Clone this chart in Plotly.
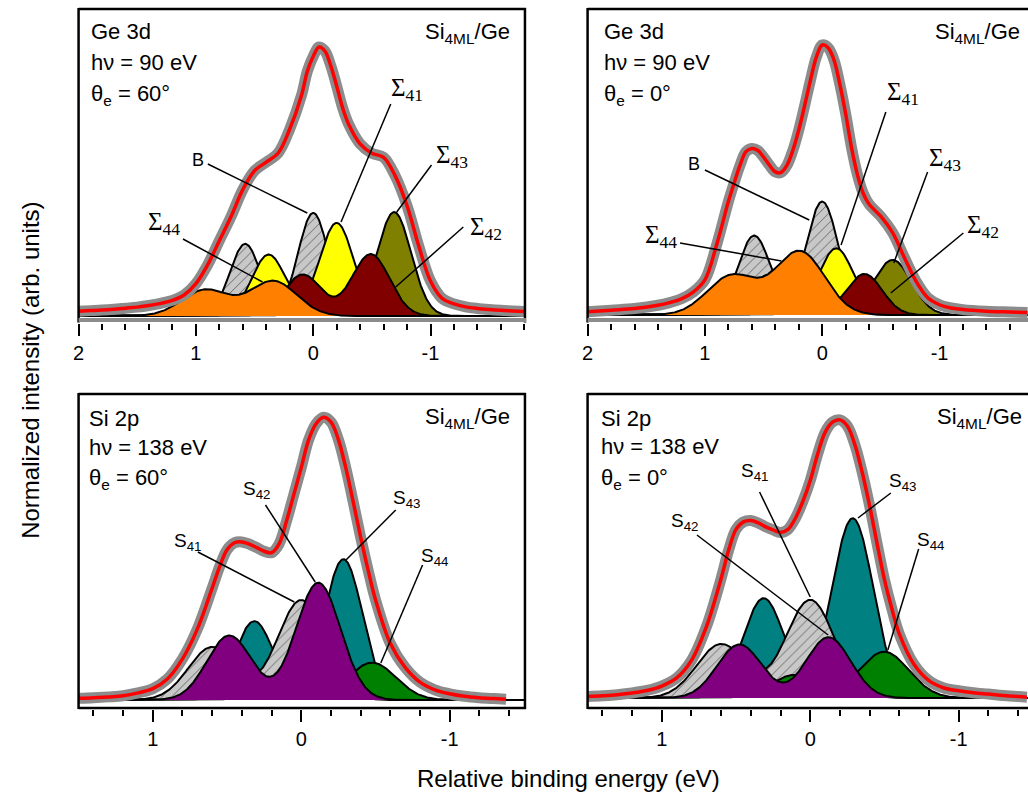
import numpy as np
import plotly.graph_objects as go

W, H = 1028, 801
SANS = "Liberation Sans, Arial, sans-serif"
SERIF = "Liberation Serif, Times New Roman, serif"

# ---------------- measured envelopes (fit / data), relative BE in eV ----------------
tl_fit_e = [2.0, 1.9, 1.8, 1.7, 1.6, 1.5, 1.4, 1.3, 1.2, 1.1, 1.0, 0.9, 0.8, 0.7, 0.6, 0.5, 0.4, 0.3,
            0.2, 0.1, 0.05, 0.0, -0.05, -0.1, -0.15, -0.2, -0.25, -0.3, -0.4, -0.5, -0.6, -0.7, -0.8,
            -0.9, -1.0, -1.1, -1.2, -1.3, -1.4, -1.5, -1.6, -1.7, -1.8]
tl_fit_v = [0.018, 0.020, 0.022, 0.025, 0.029, 0.033, 0.039, 0.047, 0.058, 0.078, 0.12, 0.19, 0.28,
            0.37, 0.47, 0.54, 0.572, 0.605, 0.695, 0.82, 0.91, 0.965, 1.0, 0.985, 0.93, 0.855, 0.775,
            0.715, 0.64, 0.605, 0.59, 0.52, 0.41, 0.26, 0.13, 0.065, 0.045, 0.034, 0.028, 0.024,
            0.021, 0.019, 0.017]

tr_fit_e = [2.0, 1.8, 1.6, 1.4, 1.3, 1.2, 1.1, 1.0, 0.9, 0.8, 0.75, 0.7, 0.65, 0.6, 0.55, 0.5, 0.45,
            0.4, 0.35, 0.3, 0.25, 0.2, 0.15, 0.1, 0.05, 0.0, -0.05, -0.1, -0.15, -0.2, -0.25, -0.3,
            -0.35, -0.4, -0.5, -0.6, -0.7, -0.8, -0.9, -1.0, -1.1, -1.2, -1.4, -1.6, -1.75]
tr_fit_v = [0.012, 0.018, 0.024, 0.036, 0.046, 0.06, 0.085, 0.13, 0.26, 0.42, 0.49, 0.555, 0.605,
            0.617, 0.61, 0.585, 0.555, 0.53, 0.528, 0.555, 0.61, 0.685, 0.775, 0.87, 0.955, 1.0,
            0.99, 0.945, 0.855, 0.745, 0.62, 0.52, 0.45, 0.41, 0.365, 0.305, 0.213, 0.125, 0.064,
            0.038, 0.026, 0.02, 0.014, 0.011, 0.009]

bl_fit_e = [1.5, 1.4, 1.3, 1.2, 1.1, 1.0, 0.9, 0.8, 0.7, 0.6, 0.55, 0.5, 0.45, 0.4, 0.35, 0.3, 0.25,
            0.2, 0.15, 0.1, 0.05, 0.0, -0.05, -0.1, -0.15, -0.2, -0.25, -0.3, -0.35, -0.4, -0.45,
            -0.5, -0.6, -0.7, -0.8, -0.9, -1.0, -1.1, -1.2, -1.3, -1.38]
bl_fit_v = [0.006, 0.008, 0.011, 0.015, 0.025, 0.04, 0.075, 0.145, 0.25, 0.395, 0.47, 0.53, 0.555,
            0.558, 0.55, 0.538, 0.525, 0.52, 0.55, 0.63, 0.725, 0.82, 0.918, 0.975, 0.998, 0.982,
            0.92, 0.82, 0.70, 0.576, 0.46, 0.355, 0.2, 0.115, 0.063, 0.036, 0.022, 0.013, 0.008,
            0.005, 0.003]

br_fit_e = [1.5, 1.4, 1.3, 1.2, 1.1, 1.0, 0.9, 0.8, 0.7, 0.6, 0.55, 0.5, 0.45, 0.4, 0.35, 0.3, 0.25,
            0.2, 0.15, 0.1, 0.05, 0.0, -0.05, -0.1, -0.15, -0.2, -0.25, -0.3, -0.35, -0.4, -0.45,
            -0.5, -0.55, -0.6, -0.7, -0.8, -0.9, -1.0, -1.1, -1.2, -1.3, -1.4, -1.46]
br_fit_v = [0.005, 0.008, 0.012, 0.018, 0.027, 0.043, 0.072, 0.135, 0.255, 0.43, 0.53, 0.605, 0.632,
            0.637, 0.628, 0.614, 0.603, 0.594, 0.605, 0.645, 0.705, 0.78, 0.875, 0.953, 0.99, 0.998,
            0.976, 0.91, 0.81, 0.69, 0.555, 0.425, 0.32, 0.23, 0.12, 0.062, 0.036, 0.026, 0.019,
            0.014, 0.009, 0.005, 0.003]

# ---------------- fitted doublet components (back -> front) ----------------
GE_SPLIT = 0.58   # Ge 3d spin-orbit splitting (eV)
SI_SPLIT = 0.60   # Si 2p spin-orbit splitting (eV)

tl_names = ["Σ43", "B", "Σ41", "Σ42", "Σ44"]
tl_colors = ["#808000", "hatch", "#ffff00", "#800000", "#ff8000"]
tl_center = [-0.69, 0.0, -0.20, -0.49, 0.34]
tl_height = [0.386, 0.383, 0.346, 0.23, 0.13]
tl_ratio = [0.67, 0.70, 0.66, 0.67, 0.75]
tl_sigma = [0.145, 0.13, 0.145, 0.16, 0.20]

tr_names = ["Σ43", "B", "Σ41", "Σ42", "Σ44"]
tr_colors = ["#808000", "hatch", "#ffff00", "#800000", "#ff8000"]
tr_center = [-0.60, 0.0, -0.12, -0.36, 0.19]
tr_height = [0.204, 0.42, 0.247, 0.152, 0.235]
tr_ratio = [0.67, 0.70, 0.60, 0.67, 0.62]
tr_sigma = [0.16, 0.14, 0.15, 0.15, 0.21]

bl_names = ["S43", "S41", "S44", "S42"]
bl_colors = ["#008080", "hatch", "#008000", "#800080"]
bl_center = [-0.284, 0.0, -0.478, -0.115]
bl_height = [0.497, 0.353, 0.132, 0.414]
bl_ratio = [0.56, 0.53, 0.50, 0.55]
bl_sigma = [0.13, 0.16, 0.16, 0.15]

br_names = ["S43", "S41", "S44", "S42"]
br_colors = ["#008080", "hatch", "#008000", "#800080"]
br_center = [-0.286, 0.0, -0.498, -0.123]
br_height = [0.645, 0.352, 0.166, 0.218]
br_ratio = [0.555, 0.55, 0.50, 0.88]
br_sigma = [0.14, 0.165, 0.165, 0.15]

# ---------------- text ----------------
top_tickvals = [2, 1, 0, -1]
top_ticktext = ["2", "1", "0", "-1"]
bot_tickvals = [1, 0, -1]
bot_ticktext = ["1", "0", "-1"]

tl_info = ["Ge 3d", "hν = 90 eV", "θ<sub>e</sub> = 60°"]
tr_info = ["Ge 3d", "hν = 90 eV", "θ<sub>e</sub> = 0°"]
bl_info = ["Si 2p", "hν = 138 eV", "θ<sub>e</sub> = 60°"]
br_info = ["Si 2p", "hν = 138 eV", "θ<sub>e</sub> = 0°"]
sample = "Si<sub>4ML</sub>/Ge"

tl_labels = ["B", "Σ<sub>41</sub>", "Σ<sub>43</sub>", "Σ<sub>42</sub>", "Σ<sub>44</sub>"]
tr_labels = ["B", "Σ<sub>41</sub>", "Σ<sub>43</sub>", "Σ<sub>42</sub>", "Σ<sub>44</sub>"]
bl_labels = ["S<sub>42</sub>", "S<sub>41</sub>", "S<sub>43</sub>", "S<sub>44</sub>"]
br_labels = ["S<sub>41</sub>", "S<sub>42</sub>", "S<sub>43</sub>", "S<sub>44</sub>"]

# ---------------- layout geometry (pixels) ----------------
tl_label_pos = [(185, 160), (385, 89), (431, 156), (465, 228), (141, 223)]
tl_leaders = [((203, 164), (303, 213)), ((387, 104), (337, 222)), ((428, 165), (393, 212)),
              ((460, 227), (392, 287)), ((178, 239), (258, 282))]
tr_label_pos = [(684, 164), (884, 93), (926, 159), (965, 226), (641, 236)]
tr_leaders = [((703, 170), (808, 220)), ((885, 112), (840, 245)), ((927, 172), (893, 263)),
              ((963, 233), (890, 293)), ((678, 243), (780, 261))]
bl_label_pos = [(236, 490), (167, 542), (387, 499), (415, 557)]
bl_leaders = [((261, 505), (311, 582)), ((193, 552), (290, 602)), ((392, 510), (342, 560)),
              ((419, 565), (377, 663))]
br_label_pos = [(737, 472), (667, 522), (886, 482), (914, 541)]
br_leaders = [((758, 492), (809, 597)), ((695, 535), (827, 635)), ((890, 493), (857, 518)),
              ((918, 549), (887, 650))]

panels = [
    dict(ax="", fe=tl_fit_e, fv=tl_fit_v, names=tl_names, colors=tl_colors, c=tl_center,
         h=tl_height, r=tl_ratio, s=tl_sigma, split=GE_SPLIT, left=73, right=522, top=9,
         bottom=322.5, e_left=2.0, ppe=118.0, base=316, unit=269, tv=top_tickvals,
         tt=top_ticktext, info=tl_info, info_x=83, info_y=[32, 63, 95], samp_x=509, samp_y=33,
         labels=tl_labels, lpos=tl_label_pos, leaders=tl_leaders, bcol="#8c8c8c", rframe=True),
    dict(ax="2", fe=tr_fit_e, fv=tr_fit_v, names=tr_names, colors=tr_colors, c=tr_center,
         h=tr_height, r=tr_ratio, s=tr_sigma, split=GE_SPLIT, left=585, right=1028, top=9,
         bottom=322.5, e_left=2.0, ppe=118.0, base=315, unit=270, tv=top_tickvals,
         tt=top_ticktext, info=tr_info, info_x=599, info_y=[32, 63, 95], samp_x=1022, samp_y=33,
         labels=tr_labels, lpos=tr_label_pos, leaders=tr_leaders, bcol="#8c8c8c", rframe=False),
    dict(ax="3", fe=bl_fit_e, fv=bl_fit_v, names=bl_names, colors=bl_colors, c=bl_center,
         h=bl_height, r=bl_ratio, s=bl_sigma, split=SI_SPLIT, left=73, right=522, top=394,
         bottom=709, e_left=1.5, ppe=149.3, base=700, unit=283.3, tv=bot_tickvals,
         tt=bot_ticktext, info=bl_info, info_x=81, info_y=[418, 447, 479], samp_x=509, samp_y=418,
         labels=bl_labels, lpos=bl_label_pos, leaders=bl_leaders, bcol="black", rframe=True),
    dict(ax="4", fe=br_fit_e, fv=br_fit_v, names=br_names, colors=br_colors, c=br_center,
         h=br_height, r=br_ratio, s=br_sigma, split=SI_SPLIT, left=585, right=1028, top=394,
         bottom=709, e_left=1.5, ppe=149.3, base=698, unit=278.7, tv=bot_tickvals,
         tt=bot_ticktext, info=br_info, info_x=596, info_y=[418, 446, 479], samp_x=1024, samp_y=418,
         labels=br_labels, lpos=br_label_pos, leaders=br_leaders, bcol="black", rframe=False),
]


def PX(x):
    return x / W


def PY(y):
    return 1 - y / H


def doublet(e, e0, a, ratio, split, sig):
    return (a * np.exp(-(e - e0) ** 2 / (2 * sig ** 2))
            + a * ratio * np.exp(-(e - e0 - split) ** 2 / (2 * sig ** 2)))


fig = go.Figure()
shapes = []
annotations = []

for p in panels:
    ax = p["ax"]
    e_right = p["e_left"] - (p["right"] - p["left"]) / p["ppe"]
    y_lo = (p["base"] - p["bottom"]) / p["unit"]
    y_hi = (p["base"] - p["top"]) / p["unit"]
    xa, ya = "x" + ax, "y" + ax

    grid = np.linspace(p["e_left"], e_right, 700)
    for name, col, c, h, r, s in zip(p["names"], p["colors"], p["c"], p["h"], p["r"], p["s"]):
        yv = doublet(grid, c, h, r, p["split"], s)
        kw = dict(x=grid, y=yv, mode="lines", fill="tozeroy", name=name, showlegend=False,
                  line=dict(color="black", width=2), xaxis=xa, yaxis=ya, hoverinfo="skip")
        if col == "hatch":
            kw["fillpattern"] = dict(shape="/", bgcolor="#c8c8c8", fgcolor="#5a5a5a",
                                     size=7, solidity=0.12, fillmode="replace")
        else:
            kw["fillcolor"] = col
        fig.add_trace(go.Scatter(**kw))

    # measured data (gray symbols) and fit (red)
    fig.add_trace(go.Scatter(x=p["fe"], y=p["fv"], mode="lines", showlegend=False,
                             line=dict(color="#8c8c8c", width=11, shape="spline"),
                             xaxis=xa, yaxis=ya, hoverinfo="skip"))
    fig.add_trace(go.Scatter(x=p["fe"], y=p["fv"], mode="lines", showlegend=False,
                             line=dict(color="#ff0000", width=3.5, shape="spline"),
                             xaxis=xa, yaxis=ya, hoverinfo="skip"))

    fig.update_layout({
        "xaxis" + ax: dict(domain=[PX(p["left"]), min(PX(p["right"]), 1.0)],
                           range=[p["e_left"], e_right], anchor=ya, tickmode="array",
                           tickvals=p["tv"], ticktext=p["tt"], ticks="outside", ticklen=12,
                           tickwidth=2, tickcolor="black", showline=False, showgrid=False,
                           zeroline=False, tickfont=dict(family=SANS, size=20, color="black"),
                           minor=dict(tickmode="linear", tick0=0, dtick=0.2, ticks="outside",
                                      ticklen=6, tickwidth=2, tickcolor="black", showgrid=False)),
        "yaxis" + ax: dict(domain=[PY(p["bottom"]), PY(p["top"])], range=[y_lo, y_hi],
                           anchor=xa, showticklabels=False, ticks="", showgrid=False,
                           zeroline=False, showline=False),
    })

    # frame
    L, R, T, B = p["left"], p["right"], p["top"], p["bottom"]
    fr = dict(type="line", xref="paper", yref="paper", layer="above")
    shapes.append(dict(fr, x0=PX(L), x1=PX(L), y0=PY(T - 1), y1=PY(B), line=dict(color="black", width=2.5)))
    shapes.append(dict(fr, x0=PX(L), x1=PX(R + 1), y0=PY(T), y1=PY(T), line=dict(color="black", width=2.5)))
    if p["rframe"]:
        shapes.append(dict(fr, x0=PX(R), x1=PX(R), y0=PY(T - 1), y1=PY(B), line=dict(color="black", width=2.5)))
    if p["bcol"] == "black":
        shapes.append(dict(fr, x0=PX(L), x1=PX(R + 1), y0=PY(B - 1), y1=PY(B - 1), line=dict(color="black", width=2.5)))
    else:
        shapes.append(dict(fr, x0=PX(L), x1=PX(R + 1), y0=PY(B - 2.5), y1=PY(B - 2.5), line=dict(color=p["bcol"], width=4)))

    # leader lines
    for (a0, a1) in p["leaders"]:
        shapes.append(dict(fr, x0=PX(a0[0]), y0=PY(a0[1]), x1=PX(a1[0]), y1=PY(a1[1]),
                           line=dict(color="black", width=1.5)))

    # panel info text
    for txt, yy in zip(p["info"], p["info_y"]):
        annotations.append(dict(text=txt, x=PX(p["info_x"]), y=PY(yy), xref="paper", yref="paper",
                                xanchor="left", yanchor="middle", showarrow=False,
                                font=dict(family=SANS, size=22, color="black")))
    annotations.append(dict(text=sample, x=PX(p["samp_x"]), y=PY(p["samp_y"]), xref="paper",
                            yref="paper", xanchor="right", yanchor="middle", showarrow=False,
                            font=dict(family=SANS, size=22, color="black")))

    # component labels
    for txt, (lx, ly) in zip(p["labels"], p["lpos"]):
        if txt.startswith("Σ"):
            f = dict(family=SERIF, size=25, color="black")
        elif txt == "B":
            f = dict(family=SANS, size=18, color="black")
        else:
            f = dict(family=SANS, size=19, color="black")
        annotations.append(dict(text=txt, x=PX(lx), y=PY(ly), xref="paper", yref="paper",
                                xanchor="left", yanchor="middle", showarrow=False, font=f))

# axis titles
annotations.append(dict(text="Normalized intensity (arb. units)", x=PX(24), y=PY(370),
                        xref="paper", yref="paper", textangle=-90, showarrow=False,
                        xanchor="center", yanchor="middle",
                        font=dict(family=SANS, size=24, color="black")))
annotations.append(dict(text="Relative binding energy (eV)", x=PX(566), y=PY(778),
                        xref="paper", yref="paper", showarrow=False,
                        xanchor="center", yanchor="middle",
                        font=dict(family=SANS, size=24, color="black")))

fig.update_layout(width=W, height=H, margin=dict(l=0, r=0, t=0, b=0),
                  paper_bgcolor="white", plot_bgcolor="white", showlegend=False,
                  shapes=shapes, annotations=annotations)

fig.write_html("out.html", include_plotlyjs=True, full_html=True,
               config={"displayModeBar": False},
               post_script="document.body.style.margin='0';document.body.style.overflow='hidden';")
